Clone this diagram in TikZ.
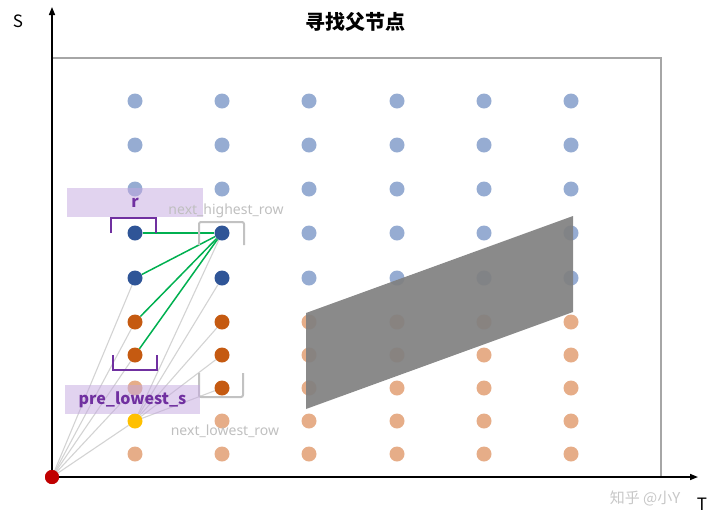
\documentclass[tikz,border=0pt]{standalone}
\usepackage{fontspec}
\setmainfont{Noto Sans}
\newfontfamily\cjk{Noto Sans CJK SC}
\usetikzlibrary{arrows.meta,backgrounds}
\definecolor{lb}{HTML}{96ACD2}
\definecolor{db}{HTML}{2F5597}
\definecolor{dor}{HTML}{C55A11}
\definecolor{lo}{HTML}{E6AD88}
\definecolor{yel}{HTML}{FFC000}
\definecolor{red0}{HTML}{C00000}
\definecolor{grn}{HTML}{00B050}
\definecolor{purp}{HTML}{7030A0}
\definecolor{boxfill}{HTML}{C4A8E0}
\definecolor{lgray}{HTML}{D3D3D3}
\definecolor{tgray}{HTML}{BFBFBF}
\definecolor{fgray}{HTML}{A6A6A6}
\begin{document}
\begin{tikzpicture}[x=1pt,y=-1pt,
  dot/.style={circle,inner sep=0pt,minimum size=15pt},
  faint/.style={draw=lgray,line width=1.1pt},
  grline/.style={draw=grn,line width=1.5pt},
  pbr/.style={draw=purp,line width=2pt},
  gbr/.style={draw=lgray!92!black,line width=2pt,rounded corners=2pt},
  labbox/.style={fill=boxfill,fill opacity=0.5,text opacity=1,inner sep=0pt,text=purp},
  axis/.style={line width=1.5pt,-{Triangle[length=8pt,width=6pt]}}]
\useasboundingbox (0,0) rectangle (720,531);

% frame
\draw[fgray,line width=1.5pt] (52,58) rectangle (661,477);

% title and axis labels
\node[font=\cjk\bfseries\fontsize{20}{24}\selectfont] (title) at (355,22) {寻找父节点};
\node[font=\cjk\fontsize{17}{19}\selectfont] (slab) at (18,21) {S};
\node[font=\cjk\fontsize{17}{19}\selectfont] (tlab) at (702,504) {T};

% dots: columns 3-6
\foreach \x [count=\c from 3] in {309,397,484,571}{
  \foreach \y/\col [count=\r] in {101/lb,145/lb,189/lb,233/lb,278/lb,322/lo,355/lo,388/lo,421/lo,454/lo}{
    \node[dot,fill=\col] (d\c-\r) at (\x,\y) {};
  }
}
% column 1
\foreach \y/\col [count=\r] in {101/lb,145/lb,189/lb,233/db,278/db,322/dor,355/dor,388/lo,421/yel,454/lo}{
  \node[dot,fill=\col] (d1-\r) at (135,\y) {};
}
% column 2
\foreach \y/\col [count=\r] in {101/lb,145/lb,189/lb,233/db,278/db,322/dor,355/dor,388/dor,421/lo,454/lo}{
  \node[dot,fill=\col] (d2-\r) at (222,\y) {};
}

% origin
\node[dot,fill=red0,minimum size=14pt] (o) at (52,477) {};
\coordinate (ytop) at (52,7);
\coordinate (xend) at (698,477);

\begin{scope}[on background layer]
  \foreach \r in {5,6,7,8,9}{ \draw[faint] (o.center) -- (d1-\r); }
  \foreach \r in {4,5,6,7,8}{ \draw[faint] (d1-9) -- (d2-\r); }
  \foreach \r in {4,5,6,7}{ \draw[grline] (d2-4) -- (d1-\r); }
\end{scope}

% axes
\draw[axis] (o.center) -- (ytop);
\draw[axis] (o.center) -- (xend);
\node[dot,fill=red0,minimum size=14pt] at (o) {};

% gray parallelogram
\fill[fill={rgb,255:red,128;green,128;blue,128},fill opacity=0.92] (306,313) -- (573,216) -- (573,312) -- (306,409) -- cycle;

% brackets
\draw[pbr] (111,233) -- (111,218) -- (156,218) -- (156,233);
\draw[pbr] (113,355) -- (113,370) -- (157,370) -- (157,355);
\draw[gbr] (199,245) -- (199,222) -- (244,222) -- (244,245);
\draw[gbr] (199,373) -- (199,397) -- (243,397) -- (243,373);

% label boxes
\node[labbox,minimum width=136pt,minimum height=29pt,font=\cjk\bfseries\fontsize{16}{18}\selectfont] (rbox) at (135,202.5) {r};
\node[labbox,minimum width=135pt,minimum height=29pt,font=\cjk\bfseries\fontsize{16}{18}\selectfont] (pbox) at (132.5,399.5) {pre\_lowest\_s};

\node[text=tgray,font=\fontsize{14}{16}\selectfont] (nh) at (226,211) {next\_highest\_row};
\node[text=tgray,font=\fontsize{14}{16}\selectfont] (nl) at (225,431) {next\_lowest\_row};

% watermark
\node[text=black!22,font=\cjk\fontsize{15}{17}\selectfont] (wm) at (645,498) {知乎 @小Y};
\end{tikzpicture}
\end{document}
